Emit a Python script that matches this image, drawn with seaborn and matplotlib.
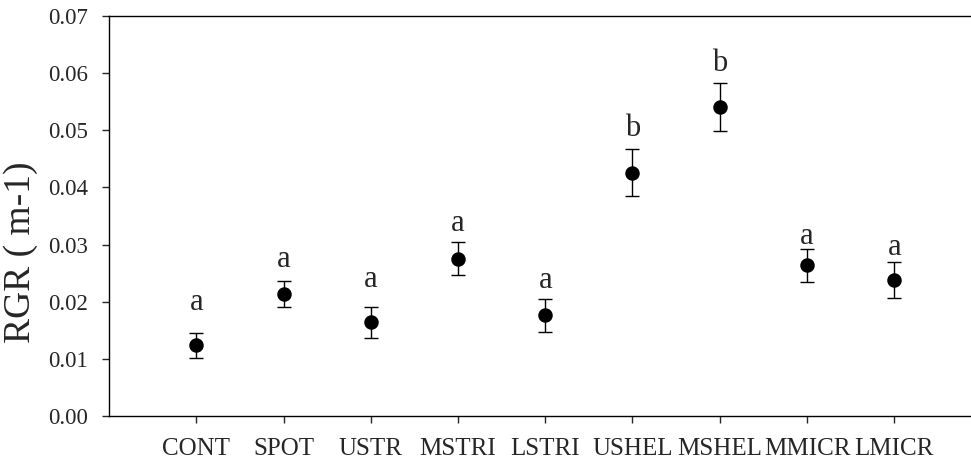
import numpy as np
import pandas as pd
import matplotlib
matplotlib.use("Agg")
import matplotlib.pyplot as plt
import seaborn as sns

# treatment groups, mean RGR, error bar half-widths, significance letters
groups = ["CONT", "SPOT", "USTR", "MSTRI", "LSTRI", "USHEL", "MSHEL", "MMICR", "LMICR"]
rgr_mean = [0.0124, 0.0213, 0.0164, 0.0275, 0.0176, 0.0426, 0.0541, 0.0264, 0.0238]
rgr_err = [0.0022, 0.0023, 0.0027, 0.0029, 0.0029, 0.0041, 0.0042, 0.0029, 0.0031]
letters = ["a", "a", "a", "a", "a", "b", "b", "a", "a"]
letter_y = [0.0186, 0.0261, 0.0226, 0.0323, 0.0224, 0.0490, 0.0604, 0.0301, 0.0282]

df = pd.DataFrame({"group": groups, "rgr": rgr_mean})

sns.set_style("ticks")
plt.rcParams["font.family"] = ["Liberation Serif", "DejaVu Serif"]

fig = plt.figure(figsize=(9.71, 4.61), dpi=100)
ax = fig.add_axes([0.1123, 0.0976, 0.8877, 0.8677])

xpos = np.arange(len(groups))
ax.errorbar(xpos, rgr_mean, yerr=rgr_err, fmt="none", ecolor="black",
            elinewidth=1, capsize=4.7, capthick=1, zorder=2)
sns.pointplot(data=df, x="group", y="rgr", color="black", linestyle="none",
              markers="o", markersize=8.4, errorbar=None, ax=ax, zorder=3)

for i, (lab, yy) in enumerate(zip(letters, letter_y)):
    ax.text(i, yy, lab, ha="center", va="baseline", fontsize=22)

ax.set_xlim(-1, 8.88)
ax.set_ylim(0, 0.07)
ax.set_yticks(np.arange(0, 0.071, 0.01))
ax.set_yticklabels([f"{v:.2f}" for v in np.arange(0, 0.071, 0.01)])
ax.set_xlabel("")
ax.set_ylabel("RGR ( m-1)", fontsize=27)
ax.yaxis.set_label_coords(-0.083, 0.41)

ax.tick_params(axis="y", labelsize=16.5, length=5, width=1, pad=10, direction="out")
ax.tick_params(axis="x", labelsize=18, length=5, width=1, pad=11, direction="out")
for s in ["left", "bottom", "top"]:
    ax.spines[s].set_linewidth(1)
    ax.spines[s].set_color("black")
ax.spines["right"].set_visible(False)

fig.savefig("out.png", dpi=100)
